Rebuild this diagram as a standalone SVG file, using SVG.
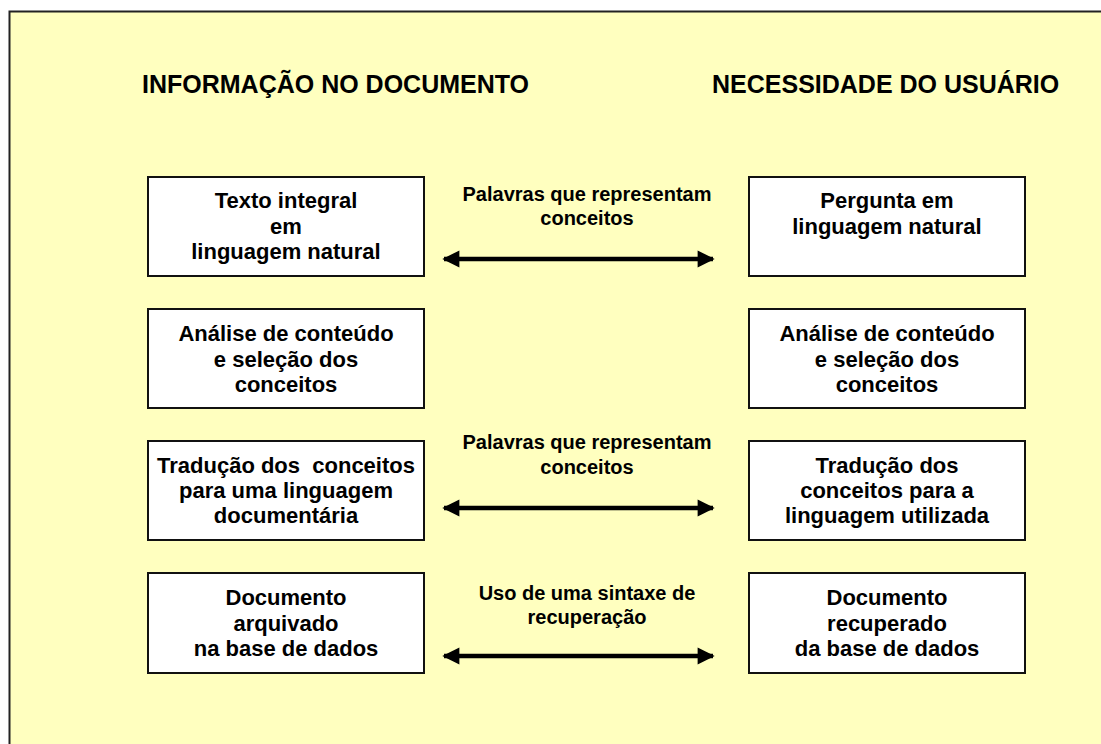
<svg xmlns="http://www.w3.org/2000/svg" width="1101" height="744" viewBox="0 0 1101 744">
<style>
  text { font-family: "Liberation Sans", Arial, sans-serif; font-weight: bold; fill: #000; }
  .title { font-size: 25px; }
  .node text { font-size: 22px; text-anchor: middle; white-space: pre; }
  .lbl { font-size: 20px; text-anchor: middle; }
  .node rect { fill: #FFFFFF; stroke: #111; stroke-width: 2; }
  .conn line { stroke: #000; stroke-width: 4.5; }
</style>
<defs>
  <marker id="ah" viewBox="0 0 10 10" refX="9" refY="5" markerWidth="4.2" markerHeight="3.8" orient="auto-start-reverse" markerUnits="strokeWidth">
    <path d="M0,0 L10,5 L0,10 Z" fill="#000"/>
  </marker>
</defs>
<rect x="0" y="0" width="1101" height="744" fill="#FFFFFF"/>
<rect x="9.5" y="11.5" width="1200" height="800" fill="#FFFFBF" stroke="#222" stroke-width="2"/>

<text class="title" x="142" y="93">INFORMAÇÃO NO DOCUMENTO</text>
<text class="title" x="712" y="93">NECESSIDADE DO USUÁRIO</text>

<g id="doc-texto" class="node">
  <rect x="148" y="177" width="276" height="99"/>
  <text x="286" y="208">Texto integral</text>
  <text x="286" y="234">em</text>
  <text x="286" y="259">linguagem natural</text>
</g>
<g id="doc-analise" class="node">
  <rect x="148" y="309" width="276" height="99"/>
  <text x="286" y="341">Análise de conteúdo</text>
  <text x="286" y="367">e seleção dos</text>
  <text x="286" y="392">conceitos</text>
</g>
<g id="doc-traducao" class="node">
  <rect x="148" y="441" width="276" height="99"/>
  <text x="286" y="473">Tradução dos  conceitos</text>
  <text x="286" y="498">para uma linguagem</text>
  <text x="286" y="523">documentária</text>
</g>
<g id="doc-arquivado" class="node">
  <rect x="148" y="573" width="276" height="100"/>
  <text x="286" y="605">Documento</text>
  <text x="286" y="631">arquivado</text>
  <text x="286" y="656">na base de dados</text>
</g>

<g id="usr-pergunta" class="node">
  <rect x="749" y="177" width="276" height="99"/>
  <text x="887" y="208">Pergunta em</text>
  <text x="887" y="234">linguagem natural</text>
</g>
<g id="usr-analise" class="node">
  <rect x="749" y="309" width="276" height="99"/>
  <text x="887" y="341">Análise de conteúdo</text>
  <text x="887" y="367">e seleção dos</text>
  <text x="887" y="392">conceitos</text>
</g>
<g id="usr-traducao" class="node">
  <rect x="749" y="441" width="276" height="99"/>
  <text x="887" y="473">Tradução dos</text>
  <text x="887" y="498">conceitos para a</text>
  <text x="887" y="523">linguagem utilizada</text>
</g>
<g id="usr-recuperado" class="node">
  <rect x="749" y="573" width="276" height="100"/>
  <text x="887" y="605">Documento</text>
  <text x="887" y="631">recuperado</text>
  <text x="887" y="656">da base de dados</text>
</g>

<g id="connectors" class="conn">
  <line x1="444" y1="259" x2="713" y2="259" marker-start="url(#ah)" marker-end="url(#ah)"/>
  <line x1="444" y1="508" x2="713" y2="508" marker-start="url(#ah)" marker-end="url(#ah)"/>
  <line x1="444" y1="656" x2="713" y2="656" marker-start="url(#ah)" marker-end="url(#ah)"/>
  <text class="lbl" x="587" y="201">Palavras que representam</text>
  <text class="lbl" x="587" y="225">conceitos</text>
  <text class="lbl" x="587" y="449">Palavras que representam</text>
  <text class="lbl" x="587" y="474">conceitos</text>
  <text class="lbl" x="587" y="600">Uso de uma sintaxe de</text>
  <text class="lbl" x="587" y="624">recuperação</text>
</g>
</svg>
